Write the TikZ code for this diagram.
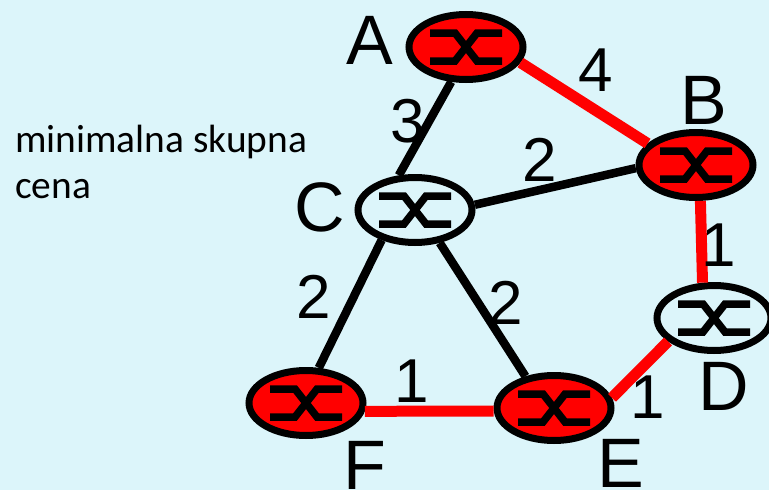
\documentclass[tikz,border=0pt]{standalone}
\usepackage{fontspec}
\usepackage{xcolor}
\setmainfont{Liberation Sans}
\newfontfamily\notefont{Carlito}
\usetikzlibrary{positioning,shapes.geometric}
\definecolor{skyback}{RGB}{220,245,250}
\tikzset{>=stealth}
\tikzset{
  router/.style={ellipse,draw=black,line width=7pt,minimum width=114pt,minimum height=65pt,inner sep=0pt},
  tree/.style={red,line width=11pt},
  link/.style={black,line width=8.5pt},
  letter/.style={inner sep=0pt,font=\fontsize{70}{70}\selectfont},
  cost/.style={inner sep=0pt,font=\fontsize{62}{62}\selectfont},
  glyph/.style={line width=7.5pt,black}
}
\begin{document}
\begin{tikzpicture}[x=1pt,y=-1pt]
\useasboundingbox (0,0) rectangle (769,490);
\fill[skyback] (0,0) rectangle (769,490);
% routers
\node[router,fill=red] (A) at (466,47) {};
\node[router,fill=red] (B) at (696,165) {};
\node[router] (C) at (415,210) {};
\node[router] (D) at (714,318) {};
\node[router,fill=red] (E) at (554,408) {};
\node[router,fill=red] (F) at (306,403) {};
\foreach \r in {A,B,C,D,E,F} {
  \draw[glyph] ([shift={(-36,-14)}]\r.center) -- ([shift={(-11,-14)}]\r.center) -- ([shift={(11,14)}]\r.center) -- ([shift={(36,14)}]\r.center);
  \draw[glyph] ([shift={(-36,14)}]\r.center) -- ([shift={(-11,14)}]\r.center) -- ([shift={(11,-14)}]\r.center) -- ([shift={(36,-14)}]\r.center);
}
% links
\draw[tree] (A.-16) -- (B.156);
\draw[tree] (B.-83) -- (D.108);
\draw[tree] (D.207) -- (E.10);
\draw[tree] (E.183) -- (F.-8);
\draw[link] (A.247) -- (C.115);
\draw[link] (B.183) -- (C.5);
\draw[link] (C.-53) -- (E.132);
\draw[link] (C.222) -- (F.70);
% labels
\node[letter] (la) at (370,40) {A};
\node[letter] (lb) at (704,100) {B};
\node[letter] (lc) at (320,207) {C};
\node[letter] (ld) at (724,386) {D};
\node[letter] (le) at (621,463) {E};
\node[letter] (lf) at (365,465) {F};
\node[cost] (c4) at (596,70) {4};
\node[cost] (c3) at (408,121) {3};
\node[cost] (c2a) at (540,160) {2};
\node[cost] (c1a) at (719,245) {1};
\node[cost] (c2b) at (314,297) {2};
\node[cost] (c2c) at (506,303) {2};
\node[cost] (c1b) at (412,381) {1};
\node[cost] (c1c) at (648,397) {1};
\node[anchor=north west,inner sep=0pt,align=left,font=\notefont\fontsize{39.4}{46}\selectfont] (note) at (15,125) {minimalna skupna\\cena};
\end{tikzpicture}
\end{document}
